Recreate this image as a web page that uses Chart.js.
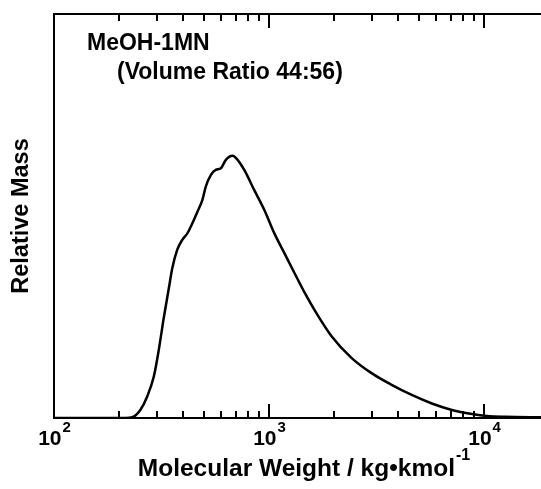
<!DOCTYPE html>
<html>
<head>
<meta charset="utf-8">
<script src="https://cdn.jsdelivr.net/npm/chart.js@4/dist/chart.umd.min.js"></script>
<style>
html, body { margin: 0; padding: 0; background: #fff; }
#wrap { width: 541px; height: 489px; }
</style>
</head>
<body>
<div id="wrap"><canvas id="graph"></canvas></div>
<script>
// molecular weight (kg/kmol) and relative mass (arbitrary, peak ~65)
var molWeight = [100, 215, 231, 252, 271, 291, 307, 324, 342, 355, 374, 395, 417, 440, 465, 490, 508, 536, 565, 597, 630, 677, 714, 767, 854, 951, 1059, 1179, 1313, 1458, 1658, 1949, 2417, 2998, 3717, 4609, 5715, 7087, 8788, 10330, 12530, 18870];
var relMass = [0, 0, 0.17, 1.98, 5.27, 10.2, 16.8, 24.8, 32.1, 37.1, 41.6, 44.1, 45.7, 48.2, 51.1, 54.0, 57.3, 60.1, 61.4, 61.8, 63.9, 64.9, 63.9, 61.4, 56.4, 51.5, 45.7, 40.8, 35.9, 31.2, 26.0, 20.3, 14.9, 11.1, 8.2, 5.7, 3.6, 2.0, 1.0, 0.5, 0.3, 0.17];

var majorTicks = [100, 1000, 10000];
var minorTicks = [200, 300, 400, 500, 600, 700, 800, 900, 2000, 3000, 4000, 5000, 6000, 7000, 8000, 9000];
var tickExponents = ['2', '3', '4'];

var noteLine1 = 'MeOH-1MN';
var noteLine2 = '(Volume Ratio 44:56)';
var xTitle = 'Molecular Weight / kg\u2022kmol';
var xTitleExp = '-1';
var yTitle = 'Relative Mass';

const FONT = '"Liberation Sans", Arial, Helvetica, sans-serif';
const ctx = document.getElementById('graph').getContext('2d');

function drawPower(c, base, exp, cx, baseline, big, small, rise) {
	c.font = 'bold ' + big + 'px ' + FONT;
	var w1 = c.measureText(base).width;
	c.font = 'bold ' + small + 'px ' + FONT;
	var w2 = c.measureText(exp).width;
	var x = cx - (w1 + w2) / 2;
	c.font = 'bold ' + big + 'px ' + FONT;
	c.fillText(base, x, baseline);
	c.font = 'bold ' + small + 'px ' + FONT;
	c.fillText(exp, x + w1 + 1, baseline - rise);
}

const framePlugin = {
	id: 'frame',
	afterDraw(chart) {
		const c = chart.ctx;
		const a = chart.chartArea;
		const xs = chart.scales.x;
		c.save();
		c.strokeStyle = '#000';
		c.lineWidth = 2;
		c.beginPath();
		c.moveTo(a.right + 2, a.top);
		c.lineTo(a.left, a.top);
		c.lineTo(a.left, a.bottom);
		c.lineTo(a.right + 2, a.bottom);
		c.stroke();

		// inward ticks top and bottom
		c.beginPath();
		minorTicks.forEach(v => {
			const px = Math.round(xs.getPixelForValue(v));
			c.moveTo(px, a.bottom); c.lineTo(px, a.bottom - 7);
			c.moveTo(px, a.top); c.lineTo(px, a.top + 7);
		});
		majorTicks.forEach(v => {
			const px = Math.round(xs.getPixelForValue(v));
			c.moveTo(px, a.bottom); c.lineTo(px, a.bottom - 14);
			c.moveTo(px, a.top); c.lineTo(px, a.top + 14);
		});
		c.stroke();

		// tick labels 10^n
		c.fillStyle = '#000';
		c.textBaseline = 'alphabetic';
		c.textAlign = 'left';
		majorTicks.forEach((v, i) => {
			drawPower(c, '10', tickExponents[i], xs.getPixelForValue(v), a.bottom + 27, 21, 15, 13);
		});

		// axis title
		drawPower(c, xTitle, xTitleExp, (a.left + a.right) / 2 + 6, a.bottom + 58, 24.5, 16, 16);

		// notes
		c.font = 'bold 23px ' + FONT;
		c.fillText(noteLine1, 87, 50);
		c.fillText(noteLine2, 117, 79);
		c.restore();
	}
};

var graph = new Chart(ctx, {
	type: 'line',
	data: {
		datasets: [{
			label: 'MeOH-1MN',
			data: molWeight.map((m, i) => ({ x: m, y: relMass[i] })),
			borderColor: '#000',
			backgroundColor: '#000',
			borderWidth: 2.5,
			pointRadius: 0,
			cubicInterpolationMode: 'monotone',
			fill: false
		}]
	},
	options: {
		animation: false,
		responsive: true,
		maintainAspectRatio: false,
		layout: { padding: { top: 14, right: 0, left: 0, bottom: 0 } },
		scales: {
			x: {
				type: 'logarithmic',
				min: 100,
				max: 18400,
				grid: { display: false },
				border: { display: false },
				ticks: { display: false },
				afterFit(axis) { axis.height = 71; }
			},
			y: {
				min: 0,
				max: 100,
				grid: { display: false },
				border: { display: false },
				ticks: { display: false },
				title: {
					display: true,
					text: yTitle,
					color: '#000',
					font: { family: FONT, size: 23.5, weight: 'bold', lineHeight: 1 },
					padding: { top: 10, bottom: 0 }
				},
				afterFit(axis) { axis.width = 54; }
			}
		},
		plugins: {
			legend: { display: false },
			tooltip: { enabled: false }
		}
	},
	plugins: [framePlugin]
});
</script>
</body>
</html>
